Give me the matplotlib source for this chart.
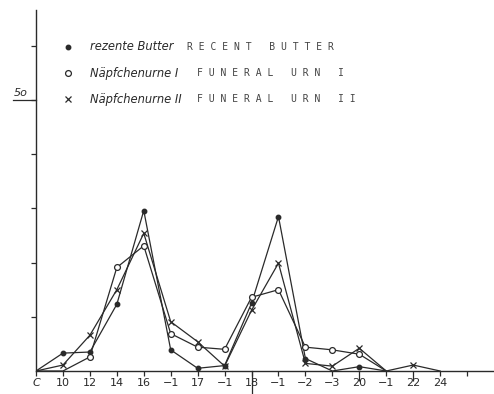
import matplotlib
matplotlib.use("Agg")
import matplotlib.pyplot as plt
import matplotlib.transforms as mtransforms
import numpy as np

# ---- data ----
tick_labels = ["C", "10", "12", "14", "16", "−1", "17", "−1", "18", "−1",
               "−2", "−3", "20", "−1", "22", "24", ""]
butter = [0, 3.3, 3.5, 12.3, 29.6, 3.9, 0.5, 1.0, 12.5, 28.5, 2.3, 0, 0.8, 0]
urn1 = [0, 0, 2.6, 19.1, 23.1, 6.9, 4.4, 4.0, 13.6, 15.0, 4.4, 3.9, 3.1, 0]
urn2 = [0, 1.1, 6.6, 15.0, 25.4, 9.1, 5.4, 0.9, 11.2, 19.9, 1.4, 0.9, 4.2, 0, 1.1, 0]
legend_de = ["rezente Butter", "Näpfchenurne I", "Näpfchenurne II"]
legend_en = ["R E C E N T   B U T T E R", "F U N E R A L   U R N   I",
             "F U N E R A L   U R N   I I"]
yticks = [10, 20, 30, 40, 50, 60]

W, H = 494, 394
fig = plt.figure(figsize=(W / 100, H / 100), dpi=100)
ax = fig.add_axes([36 / W, 23 / H, 458 / W, 361 / H])
ink = "#2a2a2a"

series = [(butter, "o", dict(markersize=3.2, markerfacecolor=ink)),
          (urn1, "o", dict(markersize=4.2, markerfacecolor="white", markeredgewidth=0.9)),
          (urn2, "x", dict(markersize=4, markeredgewidth=0.9))]
for vals, m, kw in series:
    x = np.arange(len(vals))
    mev = [i for i, v in enumerate(vals) if v > 0]
    ax.plot(x, vals, color=ink, lw=0.9, marker=m, markevery=mev,
            markeredgecolor=ink, **kw)

ax.set_xlim(0, 17.0)
ax.set_ylim(0, 66.6)
for s in ["top", "right"]:
    ax.spines[s].set_visible(False)
for s in ["left", "bottom"]:
    ax.spines[s].set_color(ink)
    ax.spines[s].set_linewidth(1.0)

ax.set_xticks(range(len(tick_labels)))
ax.set_xticklabels(tick_labels, fontsize=8, color=ink)
ax.tick_params(axis="x", direction="out", length=3.5, width=0.9, pad=1.5, colors=ink)
ax.get_xticklabels()[0].set_style("italic")
for i in (12, 14):
    ax.xaxis.get_major_ticks()[i].tick1line.set_markersize(7)

ax.set_yticks(yticks)
ax.set_yticklabels([""] * len(yticks))
ax.tick_params(axis="y", direction="out", length=3.5, width=0.9, colors=ink)

# long tick under "50" and its label
tr_y = mtransforms.blended_transform_factory(ax.transAxes, ax.transData)
ax.plot([-23 / 458, 0], [50, 50], color=ink, lw=0.9, transform=tr_y, clip_on=False)
ax.text(-15 / 458, 50.3, "5o", transform=tr_y, fontsize=8, style="italic",
        ha="center", va="bottom", color=ink)
# long tick at 18
tr_x = mtransforms.blended_transform_factory(ax.transData, ax.transAxes)
ax.plot([8, 8], [0, -23 / 361], color=ink, lw=0.9, transform=tr_x, clip_on=False)

# legend
rows_y = [47, 73, 99]
marks = [("o", dict(markersize=3.2, markerfacecolor=ink)),
         ("o", dict(markersize=4.2, markerfacecolor="white", markeredgewidth=0.9)),
         ("x", dict(markersize=4, markeredgewidth=0.9))]
en_x = [187, 197, 197]
for i, yy in enumerate(rows_y):
    fy = 1 - yy / H
    m, kw = marks[i]
    fig.add_artist(plt.Line2D([68 / W], [fy], marker=m, color=ink,
                              markeredgecolor=ink, linestyle="none", **kw))
    fig.text(90 / W, fy, legend_de[i], fontsize=8.3, style="italic",
             va="center", ha="left", color=ink)
    fig.text(en_x[i] / W, fy, legend_en[i], fontsize=7,
             family="DejaVu Sans Mono", va="center", ha="left", color="#444444")

fig.savefig("out.png", dpi=100)
